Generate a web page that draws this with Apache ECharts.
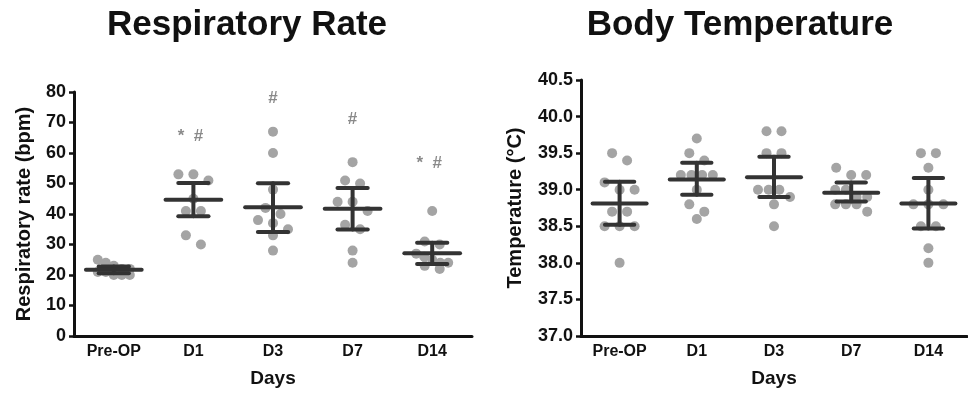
<!DOCTYPE html>
<html>
<head>
<meta charset="utf-8">
<script src="https://cdn.jsdelivr.net/npm/echarts@6/dist/echarts.min.js"></script>
<style>
  html, body { margin: 0; padding: 0; background: #fff; }
  #chart { width: 968px; height: 393px; }
</style>
</head>
<body>
<div id="chart"></div>
<script>
// ---------------- DATA ----------------
const categories = ['Pre-OP', 'D1', 'D3', 'D7', 'D14'];

// Respiratory rate (bpm), individual animals per day
const rrPreOP = [25, 24, 23, 22, 22, 21, 21, 20, 20, 20];
const rrD1    = [53, 53, 51, 45, 41, 41, 33, 30];
const rrD3    = [67, 60, 48, 42, 40, 38, 37, 35, 33, 28];
const rrD7    = [57, 51, 50, 44, 44, 41, 36.5, 35, 28, 24];
const rrD14   = [41, 31, 30, 27, 26, 25, 24, 24, 23, 22];
const rrMean  = [21.7, 44.7, 42.2, 41.7, 27.1];
const rrUpper = [22.8, 50.2, 50.1, 48.5, 30.6];
const rrLower = [20.6, 39.3, 34.1, 34.9, 23.6];
const rrSigText = ['', '* #', '#', '#', '* #'];
const rrSigAt   = [null, 65.5, 78, 71, 56.5];

// Body temperature (°C)
const tPreOP = [39.5, 39.4, 39.1, 39.0, 39.0, 38.7, 38.7, 38.5, 38.5, 38.5, 38.0];
const tD1    = [39.7, 39.5, 39.4, 39.2, 39.2, 39.2, 39.2, 39.0, 38.8, 38.7, 38.6];
const tD3    = [39.8, 39.8, 39.5, 39.5, 39.0, 39.0, 39.0, 38.9, 38.8, 38.5];
const tD7    = [39.3, 39.2, 39.2, 39.0, 39.0, 38.9, 38.9, 38.8, 38.8, 38.8, 38.7];
const tD14   = [39.5, 39.5, 39.3, 39.0, 38.8, 38.8, 38.8, 38.5, 38.5, 38.2, 38.0];
const tMean  = [38.81, 39.14, 39.17, 38.96, 38.81];
const tUpper = [39.11, 39.37, 39.45, 39.10, 39.16];
const tLower = [38.52, 38.93, 38.90, 38.84, 38.47];

const rrGroups = [rrPreOP, rrD1, rrD3, rrD7, rrD14];
const tGroups  = [tPreOP, tD1, tD3, tD7, tD14];

// ---------------- STYLE ----------------
const FONT = 'Liberation Sans, Arial, sans-serif';
const DOT = '#a4a4a4';
const BAR = '#333333';
const SIG = '#8a8a8a';

const chart = echarts.init(document.getElementById('chart'), null, { renderer: 'canvas' });

function yAxisCfg(gridIndex, name, min, max, interval, nameGap, fmt) {
  return {
    type: 'value', gridIndex, min, max, interval, name,
    nameLocation: 'middle', nameRotate: 90, nameGap,
    nameTextStyle: { fontFamily: FONT, fontWeight: 'bold', fontSize: 20, color: '#111' },
    axisLine: { show: true, onZero: false, lineStyle: { color: '#111', width: 3 } },
    axisTick: { show: true, length: 5, lineStyle: { color: '#111', width: 2.5 } },
    axisLabel: { fontFamily: FONT, fontWeight: 'bold', fontSize: 18, color: '#111', margin: 8,
                 formatter: fmt },
    splitLine: { show: false }
  };
}
function catAxisCfg(gridIndex) {
  return {
    type: 'category', gridIndex, data: categories, boundaryGap: true,
    name: 'Days', nameLocation: 'middle', nameGap: 33,
    nameTextStyle: { fontFamily: FONT, fontWeight: 'bold', fontSize: 19, color: '#111' },
    axisLine: { show: true, onZero: false, lineStyle: { color: '#111', width: 3 } },
    axisTick: { show: false },
    axisLabel: { fontFamily: FONT, fontWeight: 'bold', fontSize: 16, color: '#111', margin: 8 }
  };
}
function posAxisCfg(gridIndex) {
  return { type: 'value', gridIndex, min: -0.5, max: 4.5, show: false };
}

function barSeries(xAxisIndex, yAxisIndex, mean, lower, upper) {
  return {
    type: 'custom', xAxisIndex, yAxisIndex, z: 5, silent: true,
    data: mean.map((m, i) => [i, m, lower[i], upper[i]]),
    renderItem: function (params, api) {
      const i = api.value(0);
      const m = api.coord([i, api.value(1)]);
      const lo = api.coord([i, api.value(2)]);
      const hi = api.coord([i, api.value(3)]);
      const mL = api.coord([i - 0.35, api.value(1)])[0];
      const mR = api.coord([i + 0.35, api.value(1)])[0];
      const cL = api.coord([i - 0.19, api.value(1)])[0];
      const cR = api.coord([i + 0.19, api.value(1)])[0];
      const st = { stroke: BAR, lineWidth: 4, lineCap: 'round' };
      return {
        type: 'group',
        children: [
          { type: 'line', shape: { x1: m[0], y1: hi[1], x2: m[0], y2: lo[1] }, style: st },
          { type: 'line', shape: { x1: cL, y1: hi[1], x2: cR, y2: hi[1] }, style: st },
          { type: 'line', shape: { x1: cL, y1: lo[1], x2: cR, y2: lo[1] }, style: st },
          { type: 'line', shape: { x1: mL, y1: m[1], x2: mR, y2: m[1] }, style: st }
        ]
      };
    }
  };
}

const option = {
  animation: false,
  backgroundColor: '#ffffff',
  graphic: [
    { type: 'text', x: 247, y: 25,
      style: { text: 'Respiratory Rate', fontFamily: FONT, fontWeight: 'bold', fontSize: 35,
               fill: '#111', textAlign: 'center', textVerticalAlign: 'middle' } },
    { type: 'text', x: 740, y: 25,
      style: { text: 'Body Temperature', fontFamily: FONT, fontWeight: 'bold', fontSize: 35,
               fill: '#111', textAlign: 'center', textVerticalAlign: 'middle' } }
  ],
  grid: [
    { left: 74, top: 92, width: 398, height: 246 },
    { left: 581, top: 80, width: 386, height: 256 }
  ],
  xAxis: [catAxisCfg(0), posAxisCfg(0), catAxisCfg(1), posAxisCfg(1)],
  yAxis: [
    yAxisCfg(0, 'Respiratory rate (bpm)', 0, 80, 10, 40, null),
    yAxisCfg(1, 'Temperature (°C)', 37, 40.5, 0.5, 56, v => v.toFixed(1))
  ],
  series: [
    { type: 'scatter', name: 'rr', xAxisIndex: 1, yAxisIndex: 0, symbolSize: 10, z: 2,
      itemStyle: { color: DOT, opacity: 1 }, data: [] },
    { type: 'scatter', name: 't', xAxisIndex: 3, yAxisIndex: 1, symbolSize: 10, z: 2,
      itemStyle: { color: DOT, opacity: 1 }, data: [] },
    barSeries(1, 0, rrMean, rrLower, rrUpper),
    barSeries(3, 1, tMean, tLower, tUpper),
    {
      type: 'custom', xAxisIndex: 1, yAxisIndex: 0, z: 6, silent: true,
      data: rrSigText.map((s, i) => [i, rrSigAt[i] == null ? NaN : rrSigAt[i]]).filter(d => !isNaN(d[1])),
      renderItem: function (params, api) {
        const p = api.coord([api.value(0), api.value(1)]);
        const txt = rrSigText[api.value(0)];
        return { type: 'text', x: p[0] - (txt.length > 1 ? 3 : 0), y: p[1],
          style: { text: txt.replace(' ', '  '), fontFamily: FONT, fontSize: 17, fontWeight: 'bold',
                   fill: SIG, textAlign: 'center', textVerticalAlign: 'middle' } };
      }
    }
  ]
};
chart.setOption(option);

// ---- column-scatter layout (rows binned by dot height), through the chart's own scales ----
function columnScatter(vals, catIdx, xAxisIndex, yAxisIndex, bin, step, maxHalf) {
  const finder = { xAxisIndex, yAxisIndex };
  const cx = chart.convertToPixel(finder, [catIdx, vals[0]])[0];
  const unitPx = chart.convertToPixel(finder, [catIdx + 1, vals[0]])[0] - cx;
  const sorted = vals.slice().sort((a, b) => b - a);
  const ys = sorted.map(v => chart.convertToPixel(finder, [catIdx, v])[1]);
  const out = [];
  let i = 0;
  while (i < sorted.length) {
    let j = i;
    while (j < sorted.length && ys[j] - ys[i] < bin) j++;
    const k = j - i;
    const sp = k > 1 ? Math.min(step, 2 * maxHalf / (k - 1)) : 0;
    for (let m = 0; m < k; m++) {
      const dx = (m - (k - 1) / 2) * sp;
      out.push([catIdx + dx / unitPx, sorted[i + m]]);
    }
    i = j;
  }
  return out;
}

const rrPts = [];
rrGroups.forEach((g, c) => columnScatter(g, c, 1, 0, 10, 15, 16).forEach(p => rrPts.push(p)));
const tPts = [];
tGroups.forEach((g, c) => columnScatter(g, c, 3, 1, 10, 15, 16).forEach(p => tPts.push(p)));

chart.setOption({ series: [{ name: 'rr', data: rrPts }, { name: 't', data: tPts }] });
</script>
</body>
</html>
